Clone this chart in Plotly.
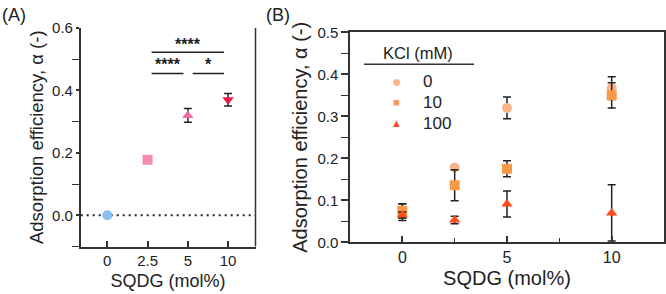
import plotly.graph_objects as go

# ---------- Data ----------
# Panel A
a_categories = ["0", "2.5", "5", "10"]
a_values = [0.0, 0.178, 0.32, 0.37]
a_errors = [0.0, 0.0, 0.022, 0.02]
a_colors = ["#86c0f2", "#f58bb5", "#f06aa2", "#ee1846"]
a_symbols = ["circle", "square", "triangle-up", "triangle-down"]

# Panel B
b_sqdg = [0, 2.5, 5, 10]
b_kcl_labels = ["0", "10", "100"]
b_values = {
    "0": [0.072, 0.178, 0.32, 0.367],
    "10": [0.075, 0.136, 0.175, 0.35],
    "100": [0.065, 0.053, 0.091, 0.07],
}
b_errors = {
    "0": [0.02, 0.005, 0.026, 0.027],
    "10": [0.017, 0.037, 0.019, 0.03],
    "100": [0.007, 0.009, 0.031, 0.067],
}
b_colors = {"0": "#f9b68c", "10": "#f99846", "100": "#ff4c1c"}
b_symbols = {"0": "circle", "10": "square", "100": "triangle-up"}
b_legend_glyphs = {"0": "●", "10": "■", "100": "▲"}
b_legend_glyph_sizes = {"0": 16, "10": 11, "100": 11}

FONT = "Liberation Sans, Arial, sans-serif"
AXC = "#333333"
W, H = 666, 294

fig = go.Figure()

# Panel A points
for i, cat in enumerate(a_categories):
    fig.add_trace(go.Scatter(
        x=[cat], y=[a_values[i]], mode="markers",
        marker=dict(symbol=a_symbols[i], color=a_colors[i], size=10, line=dict(width=0)),
        error_y=dict(type="data", array=[a_errors[i]], visible=a_errors[i] > 0,
                     color="#222222", thickness=1.5, width=4),
        xaxis="x", yaxis="y", showlegend=False))

# Panel B points
for k in b_kcl_labels:
    fig.add_trace(go.Scatter(
        x=b_sqdg, y=b_values[k], mode="markers", name=k,
        marker=dict(symbol=b_symbols[k], color=b_colors[k], size=10, line=dict(width=0)),
        error_y=dict(type="data", array=b_errors[k], color="#222222", thickness=1.5, width=4),
        xaxis="x2", yaxis="y2", showlegend=False))

# Domains (pixel-derived)
axL, axR, axT, axB = 80.7, 255.5, 28, 246.5
bxL, bxR, bxT, bxB = 350, 664, 32.3, 242.3

fig.update_layout(
    width=W, height=H, margin=dict(l=0, r=0, t=0, b=0, autoexpand=False),
    paper_bgcolor="white", plot_bgcolor="white",
    font=dict(family=FONT, color="#222222"),
    showlegend=False,
    xaxis=dict(domain=[axL / W, axR / W], type="category", automargin=False,
               categoryorder="array", categoryarray=a_categories,
               range=[-0.66, 3.68], showline=True, linecolor=AXC, linewidth=1.5,
               mirror=False, ticks="inside", ticklen=6, tickcolor=AXC, tickwidth=1.5,
               showgrid=False, zeroline=False, tickfont=dict(size=15, color="#222"),
               title=dict(text="SQDG (mol%)", font=dict(size=18, color="#222"), standoff=6),
               anchor="y"),
    yaxis=dict(domain=[1 - axB / H, 1 - axT / H], range=[-0.1, 0.6], automargin=False,
               tickvals=[0, 0.2, 0.4, 0.6], ticktext=["0.0", "0.2", "0.4", "0.6"],
               showline=True, linecolor=AXC, linewidth=1.5,
               ticks="outside", ticklen=3, tickcolor=AXC, tickwidth=1.5,
               minor=dict(tickvals=[-0.1, 0.1, 0.3, 0.5], ticks="outside", ticklen=7,
                          tickcolor=AXC, tickwidth=1.2),
               showgrid=False, zeroline=False, tickfont=dict(size=15, color="#222"),
               title=dict(text="Adsorption efficiency, α (-)", font=dict(size=18.5, color="#222"),
                          standoff=4),
               anchor="x"),
    xaxis2=dict(domain=[bxL / W, bxR / W], range=[-2.5, 12.5], automargin=False,
                tickvals=[0, 5, 10], showline=True, linecolor=AXC, linewidth=1.5, mirror=True,
                ticks="inside", ticklen=7, tickcolor=AXC, tickwidth=1.5,
                minor=dict(tickvals=[2.5, 7.5], ticks="inside", ticklen=5, tickcolor=AXC,
                           tickwidth=1.2),
                showgrid=False, zeroline=False, tickfont=dict(size=16, color="#222"),
                title=dict(text="SQDG (mol%)", font=dict(size=20, color="#222"), standoff=6),
                anchor="y2"),
    yaxis2=dict(domain=[1 - bxB / H, 1 - bxT / H], range=[0, 0.5], automargin=False,
                tickvals=[0, 0.1, 0.2, 0.3, 0.4, 0.5],
                ticktext=["0.0", "0.1", "0.2", "0.3", "0.4", "0.5"],
                showline=True, linecolor=AXC, linewidth=1.5, mirror=True,
                ticks="outside", ticklen=7, tickcolor=AXC, tickwidth=1.5,
                minor=dict(tickvals=[0.05, 0.15, 0.25, 0.35, 0.45], ticks="outside", ticklen=7,
                           tickcolor=AXC, tickwidth=1.2),
                showgrid=False, zeroline=False, tickfont=dict(size=15, color="#222"),
                title=dict(text="Adsorption efficiency, α (-)", font=dict(size=20, color="#222"),
                           standoff=4),
                anchor="x2"),
)

# Right border of panel A (no top border)
fig.add_shape(type="line", xref="paper", yref="paper",
              x0=axR / W, x1=axR / W, y0=1 - axB / H, y1=1 - axT / H,
              line=dict(color=AXC, width=1.5))

# Dotted zero line in panel A
fig.add_shape(type="line", xref="x domain", yref="y", x0=0, x1=1, y0=0, y1=0,
              line=dict(color="#222222", width=2, dash="2px,4px"), layer="below")

# Significance brackets
sig_lines = [(1.1, 2.9, 0.522), (1.1, 1.89, 0.454), (2.12, 2.9, 0.454)]
for x0, x1, yy in sig_lines:
    fig.add_shape(type="line", xref="x", yref="y", x0=x0, x1=x1, y0=yy, y1=yy,
                  line=dict(color="#222222", width=1.5))
sig_text = [(2.0, 0.515, "****"), (1.5, 0.448, "****"), (2.51, 0.448, "*")]
for xx, yy, t in sig_text:
    fig.add_annotation(x=xx, y=yy, xref="x", yref="y", text="<b>" + t + "</b>", showarrow=False,
                       font=dict(size=16, color="#222222"), yanchor="bottom")

# Manual legend for panel B
def px_x(p):
    return p / W


def px_y(p):
    return 1 - p / H


fig.add_annotation(x=px_x(418), y=px_y(53), xref="paper", yref="paper", text="KCl (mM)",
                   showarrow=False, xanchor="center", yanchor="middle",
                   font=dict(size=16.5, color="#222"))
fig.add_shape(type="line", xref="paper", yref="paper",
              x0=px_x(364), x1=px_x(474), y0=px_y(64.3), y1=px_y(64.3),
              line=dict(color="#333333", width=1.5))
leg_rows = [81.7, 102.3, 123.3]
for k, ry in zip(b_kcl_labels, leg_rows):
    fig.add_annotation(x=px_x(396.7), y=px_y(ry), xref="paper", yref="paper",
                       text=b_legend_glyphs[k], showarrow=False, xanchor="center",
                       yanchor="middle", font=dict(size=b_legend_glyph_sizes[k], color=b_colors[k]))
    fig.add_annotation(x=px_x(421), y=px_y(ry), xref="paper", yref="paper", text=k,
                       showarrow=False, xanchor="left", yanchor="middle",
                       font=dict(size=17, color="#222"))

# Panel labels
fig.add_annotation(x=0, y=px_y(15), xref="paper", yref="paper", text="(A)",
                   showarrow=False, xanchor="left", yanchor="middle",
                   font=dict(size=18, color="#222"))
fig.add_annotation(x=px_x(264), y=px_y(15), xref="paper", yref="paper", text="(B)",
                   showarrow=False, xanchor="left", yanchor="middle",
                   font=dict(size=18, color="#222"))

fig.write_html("out.html", config={"displayModeBar": False},
               post_script="document.body.style.margin='0px';document.body.style.overflow='hidden';")
